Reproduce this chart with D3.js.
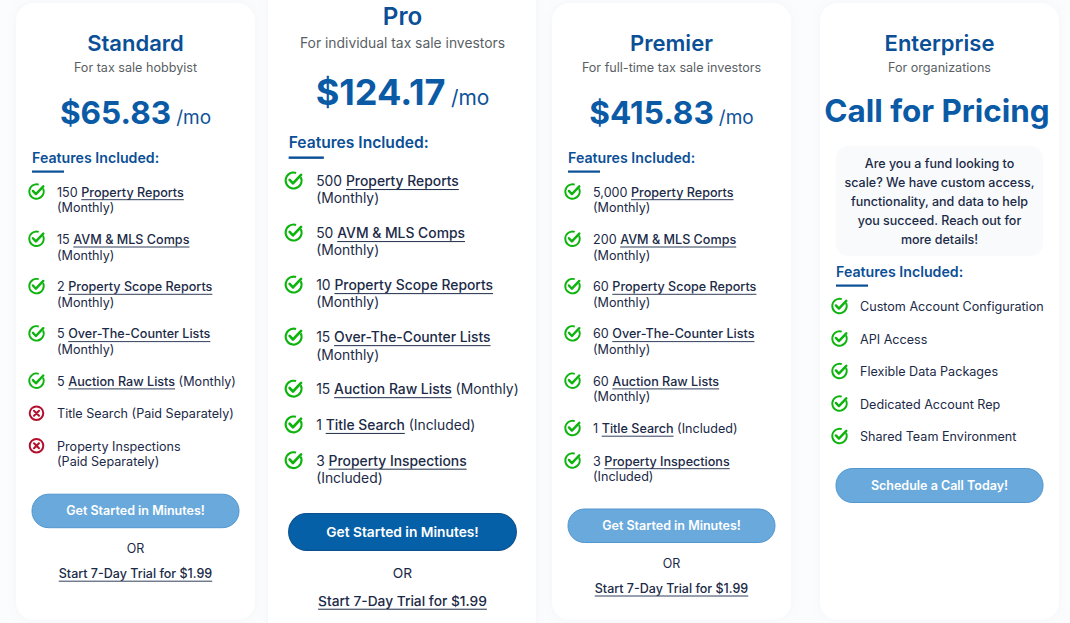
<!DOCTYPE html>
<html>
<head>
<meta charset="utf-8">
<script src="https://cdn.jsdelivr.net/npm/d3@7"></script>
<style>
  html, body { margin: 0; padding: 0; background: #fbfcfd; overflow: hidden; }
  svg { display: block; font-family: Inter, "Noto Sans", sans-serif; }
</style>
</head>
<body>
<svg id="chart" width="1070" height="623"></svg>
<script>
// plan data
var planNames = ["Standard", "Pro", "Premier", "Enterprise"];
var planTaglines = ["For tax sale hobbyist", "For individual tax sale investors", "For full-time tax sale investors", "For organizations"];
var planPrices = ["$65.83", "$124.17", "$415.83", "Call for Pricing"];
var planButtons = ["Get Started in Minutes!", "Get Started in Minutes!", "Get Started in Minutes!", "Schedule a Call Today!"];
var trialLabel = "Start 7-Day Trial for $1.99";
var enterpriseNote = ["Are you a fund looking to", "scale? We have custom access,", "functionality, and data to help", "you succeed. Reach out for", "more details!"];

// each feature: [included, text before link, link, text after link, text on second line]
var standardFeatures = [
  [true, "150 ", "Property Reports", "", "(Monthly)"],
  [true, "15 ", "AVM & MLS Comps", "", "(Monthly)"],
  [true, "2 ", "Property Scope Reports", "", "(Monthly)"],
  [true, "5 ", "Over-The-Counter Lists", "", "(Monthly)"],
  [true, "5 ", "Auction Raw Lists", " (Monthly)", ""],
  [false, "Title Search (Paid Separately)", "", "", ""],
  [false, "Property Inspections", "", "", "(Paid Separately)"]
];
var proFeatures = [
  [true, "500 ", "Property Reports", "", "(Monthly)"],
  [true, "50 ", "AVM & MLS Comps", "", "(Monthly)"],
  [true, "10 ", "Property Scope Reports", "", "(Monthly)"],
  [true, "15 ", "Over-The-Counter Lists", "", "(Monthly)"],
  [true, "15 ", "Auction Raw Lists", " (Monthly)", ""],
  [true, "1 ", "Title Search", " (Included)", ""],
  [true, "3 ", "Property Inspections", "", "(Included)"]
];
var premierFeatures = [
  [true, "5,000 ", "Property Reports", "", "(Monthly)"],
  [true, "200 ", "AVM & MLS Comps", "", "(Monthly)"],
  [true, "60 ", "Property Scope Reports", "", "(Monthly)"],
  [true, "60 ", "Over-The-Counter Lists", "", "(Monthly)"],
  [true, "60 ", "Auction Raw Lists", "", "(Monthly)"],
  [true, "1 ", "Title Search", " (Included)", ""],
  [true, "3 ", "Property Inspections", "", "(Included)"]
];
var enterpriseFeatures = [
  [true, "Custom Account Configuration", "", "", ""],
  [true, "API Access", "", "", ""],
  [true, "Flexible Data Packages", "", "", ""],
  [true, "Dedicated Account Rep", "", "", ""],
  [true, "Shared Team Environment", "", "", ""]
];
var planFeatures = [standardFeatures, proFeatures, premierFeatures, enterpriseFeatures];

// colours
var blueTitle = "#0b4f96", bluePrice = "#0a5aa5", ink = "#1b2a47", grey = "#5a5f66";
var green = "#0db40d", red = "#b3102e";

var svg = d3.select("#chart");
var cardWidth = 239, cardTop = 3, cardHeight = 617, midY = 311;

// cards sit on an even step, the Pro card is the same card enlarged
var cardX = d3.scalePoint().domain(planNames).range([16, 820]);

var defs = svg.append("defs");
var shadow = defs.append("filter").attr("id", "soft").attr("x", "-10%").attr("y", "-10%").attr("width", "120%").attr("height", "120%");
shadow.append("feDropShadow").attr("dx", 0).attr("dy", 0).attr("stdDeviation", 4).attr("flood-color", "#9fb0c4").attr("flood-opacity", 0.1);

// white column behind Pro
svg.append("rect").attr("x", 268).attr("y", -10).attr("width", 268).attr("height", 643).attr("fill", "#ffffff")
  .attr("filter", "url(#soft)");

var cards = svg.selectAll("g.card").data(planNames).join("g")
  .attr("class", "card")
  .attr("transform", function (d) {
    if (d == "Pro") return "translate(" + (cardX(d) + cardWidth / 2 - 1) + "," + midY + ") scale(1.1) translate(" + (-cardWidth / 2) + "," + (-midY) + ")";
    return "translate(" + cardX(d) + ",0)";
  });

cards.each(function (name, i) {
  var card = d3.select(this);
  var mid = cardWidth / 2;
  var isEnterprise = name == "Enterprise";
  var isPro = name == "Pro";

  if (!isPro) {
    card.append("rect").attr("x", 0).attr("y", cardTop).attr("width", cardWidth).attr("height", cardHeight)
      .attr("rx", 18).attr("fill", "#ffffff").attr("filter", "url(#soft)");
  }

  card.append("text").attr("x", mid).attr("y", isPro ? 50.6 : 51).attr("text-anchor", "middle")
    .attr("font-size", 22).attr("font-weight", 600).attr("fill", blueTitle).text(name);
  card.append("text").attr("x", mid).attr("y", 71.5).attr("text-anchor", "middle")
    .attr("font-size", 12.6).attr("fill", grey).text(planTaglines[i]);

  var left = 16, textX = 41, iconX = 20.5, headY = 163, rowY = isPro ? 192.9 : 192;

  if (isEnterprise) {
    card.append("text").attr("x", mid - 2.5).attr("y", 122).attr("text-anchor", "middle")
      .attr("font-size", 31.4).attr("font-weight", 700).attr("fill", bluePrice).text(planPrices[i]);

    card.append("rect").attr("x", 16).attr("y", 146).attr("width", 207).attr("height", 110)
      .attr("rx", 12).attr("fill", "#f8fafc");
    card.selectAll("text.note").data(enterpriseNote).join("text")
      .attr("class", "note").attr("x", mid).attr("y", function (d, k) { return 168 + k * 19; })
      .attr("text-anchor", "middle").attr("font-size", 12.5).attr("font-weight", 500).attr("fill", ink)
      .text(function (d) { return d; });

    iconX = 19.5; textX = 40; headY = 277; rowY = 306.5;
  } else {
    var price = card.append("text").attr("x", mid).attr("y", 123.5).attr("text-anchor", "middle").attr("fill", bluePrice);
    price.append("tspan").attr("font-size", isPro ? 32.8 : 31.6).attr("font-weight", 700).text(planPrices[i]);
    price.append("tspan").attr("dx", 5).attr("font-size", 19).attr("fill", "#0f5299").text("/mo");
  }

  // features heading with short rule
  card.append("text").attr("x", left).attr("y", headY).attr("font-size", 14.2).attr("font-weight", 600)
    .attr("fill", blueTitle).text("Features Included:");
  card.append("rect").attr("x", left).attr("y", headY + 7.5).attr("width", 32).attr("height", 2.2).attr("fill", blueTitle);

  // row positions come from how many lines each feature takes
  var features = planFeatures[i];
  var steps = features.map(function (f) { return f[4] ? 47.3 : 32.5; });
  var rowTops = [0].concat(Array.from(d3.cumsum(steps))).map(function (v) { return v + rowY; });

  var rows = card.selectAll("g.row").data(features).join("g")
    .attr("class", "row")
    .attr("transform", function (d, k) { return "translate(0," + rowTops[k] + ")"; });

  rows.each(function (f) {
    var row = d3.select(this);
    drawIcon(row, iconX, -0.5, f[0]);

    var line = row.append("text").attr("x", textX).attr("y", 4.5).attr("font-size", 12.6).attr("fill", ink);
    var before = line.append("tspan").text(f[1]);
    if (f[2]) {
      var link = line.append("tspan").attr("font-weight", 500).text(f[2]);
      var x0 = textX + before.node().getComputedTextLength();
      row.append("line").attr("x1", x0).attr("x2", x0 + link.node().getComputedTextLength())
        .attr("y1", 7.7).attr("y2", 7.7).attr("stroke", ink).attr("stroke-width", 0.9);
    }
    if (f[3]) line.append("tspan").text(f[3]);
    if (f[4]) {
      row.append("text").attr("x", textX).attr("y", 20.3).attr("font-size", 12.6).attr("fill", ink).text(f[4]);
    }
  });

  // button goes under the last feature
  var btnY = rowTops[features.length] + (isEnterprise ? -0.5 : 0.7);
  var btn = card.append("g").attr("transform", "translate(" + left + "," + btnY + ")");
  btn.append("rect").attr("x", 0).attr("y", 0).attr("width", 207).attr("height", isEnterprise ? 34 : 33.5).attr("rx", 16.5)
    .attr("fill", isPro ? "#0560a8" : "#6aa9dc").attr("stroke", isPro ? "#0c4f8e" : "#5096cf").attr("stroke-width", 1);
  btn.append("text").attr("x", 207 / 2).attr("y", 21).attr("text-anchor", "middle")
    .attr("font-size", 12.5).attr("font-weight", 600).attr("fill", "#ffffff").text(planButtons[i]);

  if (!isEnterprise) {
    card.append("text").attr("x", mid).attr("y", btnY + 58.5).attr("text-anchor", "middle")
      .attr("font-size", 12.5).attr("fill", ink).text("OR");
    var trial = card.append("text").attr("x", mid).attr("y", btnY + 84).attr("text-anchor", "middle")
      .attr("font-size", 12.5).attr("font-weight", 500).attr("fill", ink).text(trialLabel);
    var w = trial.node().getComputedTextLength();
    card.append("line").attr("x1", mid - w / 2).attr("x2", mid + w / 2).attr("y1", btnY + 87).attr("y2", btnY + 87)
      .attr("stroke", ink).attr("stroke-width", 0.9);
  }
});

// green check in an open ring, or red cross in a ring
function drawIcon(row, x, y, ok) {
  var g = row.append("g").attr("transform", "translate(" + x + "," + y + ")");
  if (ok) {
    var ring = d3.arc().innerRadius(6.3).outerRadius(8.2).startAngle(Math.PI * 0.36).endAngle(Math.PI * 2.1);
    g.append("path").attr("d", ring()).attr("fill", green);
    g.append("path").attr("d", "M-3.6,-0.6 L-0.6,2.6 L6.8,-5.2").attr("fill", "none")
      .attr("stroke", green).attr("stroke-width", 2.4).attr("stroke-linecap", "round").attr("stroke-linejoin", "round");
  } else {
    g.append("circle").attr("r", 6.8).attr("fill", "none").attr("stroke", red).attr("stroke-width", 2);
    g.append("path").attr("d", "M-2.5,-2.5 L2.5,2.5 M2.5,-2.5 L-2.5,2.5").attr("stroke", red)
      .attr("stroke-width", 2).attr("stroke-linecap", "round");
  }
}
</script>
</body>
</html>
